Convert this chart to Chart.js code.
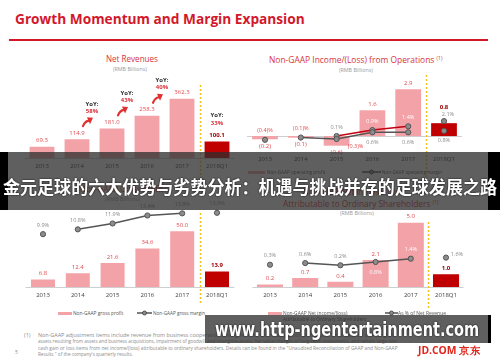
<!DOCTYPE html>
<html lang="en">
<head>
<meta charset="UTF-8">
<title>Growth Momentum and Margin Expansion</title>
<script src="https://cdn.jsdelivr.net/npm/chart.js"></script>
<style>
  body { margin: 0; background: #fff; }
  #slide { position: relative; width: 500px; height: 362px; overflow: hidden; font-family: "Open Sans", "Noto Sans", sans-serif; }
  .t { position: absolute; white-space: nowrap; line-height: 1; transform-origin: left center; }
  .t sup { font-size: 0.6em; vertical-align: 0.5em; }
  canvas { position: absolute; }
  .box { position: absolute; }
  .rule { position: absolute; left: 9px; top: 39px; width: 479px; height: 1.5px; background: #d3182b; }
  .banner { position: absolute; background: rgba(45, 45, 45, 0.76); z-index: 5; }
  .black { position: absolute; background: #000; z-index: 6; }
  .over { z-index: 7; color: #fff; font-weight: 700; text-shadow: 0 0 2px #000; }
</style>
</head>
<body>
<div id="slide">
  <div class="t" data-x="15" data-y="18" data-w="290" style="font-size:15px;font-weight:700;color:#d3182b">Growth Momentum and Margin Expansion</div>
  <div class="rule"></div>

  <!-- chart titles -->
  <div class="t" data-x="106" data-y="58" data-w="52" style="font-size:9px;color:#d8343c">Net Revenues</div>
  <div class="t" data-x="113" data-y="69" data-w="34" style="font-size:5px;color:#9a9a9a">(RMB Billions)</div>
  <div class="t" data-x="269" data-y="59" data-w="173" style="font-size:9px;color:#d8343c">Non-GAAP Income/(Loss) from Operations <sup>(1)</sup></div>
  <div class="t" data-x="339" data-y="70" data-w="34" style="font-size:5px;color:#9a9a9a">(RMB Billions)</div>
  <div class="t" data-x="80" data-y="188" data-w="83" style="font-size:9px;color:#d8343c">Non-GAAP Gross Profit</div>
  <div class="t" data-x="105" data-y="199" data-w="35" style="font-size:5px;color:#9a9a9a">(RMB Billions)</div>
  <div class="t" data-x="303" data-y="191" data-w="102" style="font-size:9px;color:#d8343c">Non-GAAP Net Income/(Loss)</div>
  <div class="t" data-x="283" data-y="203" data-w="155" style="font-size:9px;color:#d8343c">Attributable to Ordinary Shareholders <sup>(1)</sup></div>
  <div class="t" data-x="340" data-y="213" data-w="34" style="font-size:5px;color:#9a9a9a">(RMB Billions)</div>

  <canvas id="c1" width="250" height="105" style="left:0;top:75px"></canvas>
  <canvas id="c2" width="260" height="105" style="left:240px;top:75px"></canvas>
  <canvas id="c3" width="250" height="115" style="left:0;top:195px"></canvas>
  <canvas id="c4" width="260" height="115" style="left:240px;top:195px"></canvas>

  <!-- legends -->
  <div class="box" style="left:248px;top:170.5px;width:17px;height:3px;background:#f3a2a8"></div>
  <div class="t" data-x="267" data-y="172" data-w="58" style="font-size:5px;color:#555">Non-GAAP operating profit</div>
  <svg class="box" style="left:362px;top:169px" width="19" height="6"><line x1="0" y1="3" x2="19" y2="3" stroke="#3a3a3a" stroke-width="1.3"/><circle cx="9.5" cy="3" r="2" fill="#8c8c8c" stroke="#3a3a3a" stroke-width="0.8"/></svg>
  <div class="t" data-x="382" data-y="172" data-w="60" style="font-size:5px;color:#555">Non-GAAP operating margin</div>

  <div class="box" style="left:58px;top:311.5px;width:14px;height:3px;background:#f3a2a8"></div>
  <div class="t" data-x="73" data-y="313" data-w="50" style="font-size:5px;color:#555">Non-GAAP gross profit</div>
  <svg class="box" style="left:137px;top:310px" width="15" height="6"><line x1="0" y1="3" x2="15" y2="3" stroke="#3a3a3a" stroke-width="1.3"/><circle cx="7.5" cy="3" r="2" fill="#8c8c8c" stroke="#3a3a3a" stroke-width="0.8"/></svg>
  <div class="t" data-x="153" data-y="313" data-w="52" style="font-size:5px;color:#555">Non-GAAP gross margin</div>

  <div class="box" style="left:268px;top:311.5px;width:14px;height:3px;background:#f3a2a8"></div>
  <div class="t" data-x="283" data-y="313" data-w="64" style="font-size:5px;color:#555">Non-GAAP Net income/(loss)</div>
  <div class="t" data-x="283" data-y="319.5" data-w="83" style="font-size:5px;color:#555">Attributable to Ordinary Shareholders</div>
  <svg class="box" style="left:385px;top:310px" width="13" height="6"><line x1="0" y1="3" x2="13" y2="3" stroke="#3a3a3a" stroke-width="1.3"/><circle cx="6.5" cy="3" r="2" fill="#8c8c8c" stroke="#3a3a3a" stroke-width="0.8"/></svg>
  <div class="t" data-x="398" data-y="313" data-w="48" style="font-size:5px;color:#555">As % of Net Revenue</div>

  <!-- footnote -->
  <div class="t" data-x="24" data-y="335" data-w="6" style="font-size:4.6px;color:#8c8c8c">(1)</div>
  <div class="t" data-x="38" data-y="335" data-w="358" style="font-size:4.6px;color:#8c8c8c">Non-GAAP adjustment items include revenue from business cooperation arrangements, share-based compensation, amortization of intangible</div>
  <div class="t" data-x="38" data-y="341.5" data-w="360" style="font-size:4.6px;color:#8c8c8c">assets resulting from assets and business acquisitions, impairment of goodwill and intangible assets, fair value changes of long-term investments, and certain large non-</div>
  <div class="t" data-x="38" data-y="348" data-w="359" style="font-size:4.6px;color:#8c8c8c">cash gain or loss items from net income/(loss) attributable to ordinary shareholders. Details can be found in the "Unaudited Reconciliation of GAAP and Non-GAAP</div>
  <div class="t" data-x="38" data-y="354.5" data-w="95" style="font-size:4.6px;color:#8c8c8c">Results " of the company's quarterly results.</div>
  <div class="t" data-x="15" data-y="352" data-w="3" style="font-size:5px;color:#8c8c8c">5</div>
  <div class="t" data-x="418" data-y="350" data-w="62" style="font-size:10px;font-weight:700;color:#e1251b">JD.COM 京东</div>

  <!-- overlays -->
  <div class="banner" style="left:0;top:152px;width:500px;height:58px"></div>
  <div class="black" style="left:0;top:152px;width:8px;height:58px"></div>
  <div class="black" style="left:488px;top:152px;width:12px;height:58px"></div>
  <div class="t over" data-x="3" data-y="186" data-w="494" style="font-size:18px;font-family:'Noto Sans CJK SC',sans-serif">金元足球的六大优势与劣势分析：机遇与挑战并存的足球发展之路</div>

  <div class="banner" style="left:205px;top:315px;width:284px;height:28px"></div>
  <div class="black" style="left:488px;top:315px;width:3px;height:28px"></div>
  <div class="t over" data-x="215" data-y="329" data-w="264" style="font-size:19px;font-family:'DejaVu Sans',sans-serif">www.http-ngentertainment.com</div>
</div>

<script>
  // ---- data ----
  const years = ["2013", "2014", "2015", "2016", "2017", "2018Q1"];

  const netRevenue = [69.3, 114.9, 181.0, 258.3, 362.3, 100.1];
  const revenueYoY = ["", "58%", "43%", "40%", "", "33%"];

  const opProfit = [-0.2, -0.1, -0.6, 1.6, 2.9, 0.8];
  const opMarginA = [-0.4, -0.1, -0.3, 0.6, 0.6, 0.8];
  const opMarginB = [null, null, 0.1, 0.9, 1.4, 2.1];

  const grossProfit = [6.8, 12.4, 21.6, 34.6, 50.0, 13.9];
  const grossMargin = [9.9, 10.8, 11.9, 13.4, 13.8, 13.9];

  const netIncome = [0.2, 0.7, 0.4, 2.1, 5.0, 1.0];
  const netMargin = [0.3, 0.6, 0.2, 0.8, 1.4, 1.6];

  // ---- text placement ----
  document.querySelectorAll(".t").forEach(el => {
    const w = el.offsetWidth, h = el.offsetHeight;
    el.style.left = el.dataset.x + "px";
    el.style.top = (el.dataset.y - h / 2) + "px";
    el.style.transform = "scaleX(" + (el.dataset.w / w) + ")";
  });

  Chart.defaults.font.family = "'Open Sans', 'Noto Sans', sans-serif";
  Chart.defaults.color = "#404040";

  const PINK = "#f3a2a8", DARK = "#c00000", GRAY = "#555555", REDLINE = "#c00010";
  const OFFS = { a: [0, -9], ar: [4, -7], b: [0, 10], r: [11, -3], br: [19, 7] };

  function fmtNum(v) { return v < 0 ? "(" + Math.abs(v).toFixed(1) + ")" : v.toFixed(1); }
  function fmtPct(v) { return v < 0 ? "(" + Math.abs(v).toFixed(1) + ")%" : v.toFixed(1) + "%"; }

  function drawArrow(ctx, x, y) {
    ctx.strokeStyle = ctx.fillStyle = "#e23030";
    ctx.lineWidth = 2.2;
    ctx.lineCap = "round";
    ctx.beginPath();
    ctx.moveTo(x - 5, y + 4);
    ctx.quadraticCurveTo(x - 3, y - 1, x + 1, y - 1.5);
    ctx.stroke();
    ctx.beginPath();
    ctx.moveTo(x + 5, y - 4.5);
    ctx.lineTo(x - 1, y - 5);
    ctx.lineTo(x + 2, y + 2);
    ctx.closePath();
    ctx.fill();
  }

  const slideMarks = {
    id: "slideMarks",
    beforeDatasetsDraw(chart) {
      const { ctx, chartArea: a, scales: { y } } = chart;
      const y0 = Math.round(y.getPixelForValue(0)) + 0.5;
      ctx.save();
      ctx.strokeStyle = "#cfcfcf";
      ctx.lineWidth = 1;
      ctx.beginPath(); ctx.moveTo(a.left, y0); ctx.lineTo(a.right, y0); ctx.stroke();
      ctx.restore();
    },
    afterDatasetsDraw(chart, args, o) {
      const { ctx, scales: { x } } = chart;
      const bars = chart.getDatasetMeta(0).data.map(b => b.getProps(["x", "y", "base", "width"], true));
      const vals = chart.data.datasets[0].data;
      const last = vals.length - 1;
      ctx.save();
      ctx.textAlign = "center";

      // dashed divider before the quarter
      const dx = Math.round((x.getPixelForValue(last - 1) + x.getPixelForValue(last)) / 2) + 0.5;
      ctx.strokeStyle = "#f2c21b";
      ctx.lineWidth = 1.5;
      ctx.setLineDash([2, 2]);
      ctx.beginPath(); ctx.moveTo(dx, o.dashTop); ctx.lineTo(dx, o.dashBottom); ctx.stroke();
      ctx.setLineDash([]);

      // bar values (lifted over a line point sitting just above the bar)
      bars.forEach((b, i) => {
        const v = vals[i];
        let top = b.y;
        chart.data.datasets.forEach((ds, di) => {
          if (di === 0 || ds.data[i] === null) return;
          const py = chart.getDatasetMeta(di).data[i].y;
          if (py < b.y + 1 && py > b.y - 12) top = Math.min(top, py - 8);
        });
        ctx.font = (i === last ? "700 " : "") + "6px 'Open Sans', sans-serif";
        ctx.fillStyle = i === last ? "#a00000" : "#e04b50";
        if (v >= 0) { ctx.textBaseline = "bottom"; ctx.fillText(fmtNum(v), b.x, top - 3); }
        else { ctx.textBaseline = "top"; ctx.fillText(fmtNum(v), b.x, b.y + 4); }
      });

      // percentage labels
      ctx.textBaseline = "middle";
      ctx.font = "5.5px 'Open Sans', sans-serif";
      chart.data.datasets.forEach((ds, di) => {
        if (!ds.labelPos) return;
        chart.getDatasetMeta(di).data.forEach((p, i) => {
          const v = ds.data[i], pos = ds.labelPos[i];
          if (v === null || !pos) return;
          const lx = p.x + OFFS[pos][0], ly = p.y + OFFS[pos][1];
          const b = bars[i];
          const inside = Math.abs(lx - b.x) < b.width / 2 && ly > Math.min(b.y, b.base) + 3 && ly < Math.max(b.y, b.base) - 3;
          ctx.fillStyle = inside ? "#ffffff" : (v < 0 ? "#e04b50" : "#8a8a8a");
          ctx.fillText(fmtPct(v), lx, ly);
        });
      });

      // year-over-year notes
      if (o.yoy) {
        bars.forEach((b, i) => {
          const t = o.yoy[i];
          if (!t) return;
          const end = i === last;
          const cx = end ? b.x : b.x + 15;
          ctx.font = "700 6px 'Open Sans', sans-serif";
          ctx.fillStyle = "#333";
          ctx.fillText("YoY:", cx, b.y - (end ? 26 : 35));
          ctx.fillStyle = "#d8343c";
          ctx.fillText(t, cx, b.y - (end ? 18 : 28));
          if (!end) drawArrow(ctx, b.x + 11, b.y - 17);
        });
      }
      ctx.restore();
    }
  };

  function xAxis() {
    return {
      type: "category", offset: true,
      grid: { display: false, drawTicks: false }, border: { display: false },
      ticks: { padding: 5, font: { size: 6 }, color: "#404040", maxRotation: 0, autoSkip: false }
    };
  }

  function barSet(data, pct) {
    return {
      type: "bar", data, order: 1,
      backgroundColor: years.map((_, i) => i === years.length - 1 ? DARK : PINK),
      barPercentage: pct, categoryPercentage: 1
    };
  }

  function lineSet(data, color, breaks, labelPos) {
    return {
      type: "line", data, yAxisID: "y1", order: 0, labelPos,
      borderColor: color, borderWidth: 1.5, spanGaps: false,
      pointRadius: 2.6, pointBackgroundColor: "#8c8c8c", pointBorderColor: GRAY, pointBorderWidth: 1,
      segment: { borderColor: c => breaks.includes(c.p0DataIndex) ? "rgba(0,0,0,0)" : color }
    };
  }

  function makeChart(id, datasets, pad, yr, y1r, marks) {
    const scales = { x: xAxis(), y: { display: false, min: yr[0], max: yr[1] } };
    if (y1r) scales.y1 = { display: false, min: y1r[0], max: y1r[1] };
    return new Chart(document.getElementById(id), {
      data: { labels: years, datasets },
      plugins: [slideMarks],
      options: {
        responsive: false, animation: false,
        layout: { padding: pad },
        scales,
        plugins: { legend: { display: false }, tooltip: { enabled: false }, slideMarks: marks }
      }
    });
  }

  makeChart("c1", [barSet(netRevenue, 0.71)],
    { left: 24.5, right: 15.5, top: 3, bottom: 4.8 }, [0, 489], null,
    { dashTop: 10, dashBottom: 105, yoy: revenueYoY });

  makeChart("c2", [
      barSet(opProfit, 0.72),
      lineSet(opMarginA, GRAY, [0, 4], ["a", "a", "br", "b", "b", "b"]),
      lineSet(opMarginB, REDLINE, [4], [null, null, "a", "a", "a", "ar"])
    ],
    { left: 7.1, right: 38.1, top: 5, bottom: 11.8 }, [-0.928, 3.48], [-1.9, 7.6],
    { dashTop: 0, dashBottom: 105 });

  makeChart("c3", [
      barSet(grossProfit, 0.69),
      lineSet(grossMargin, GRAY, [0, 4], ["a", "a", "a", "a", "a", "a"])
    ],
    { left: 25.6, right: 15.6, top: 5, bottom: 5.8 }, [0, 78], [0, 16.3],
    { dashTop: 18, dashBottom: 110 });

  makeChart("c4", [
      barSet(netIncome, 0.74),
      lineSet(netMargin, GRAY, [0, 4], ["a", "a", "a", "b", "a", "r"])
    ],
    { left: 12.4, right: 36.4, top: 5, bottom: 5.8 }, [0, 6.76], [-3.76, 12.1],
    { dashTop: 27, dashBottom: 115 });
</script>
</body>
</html>
